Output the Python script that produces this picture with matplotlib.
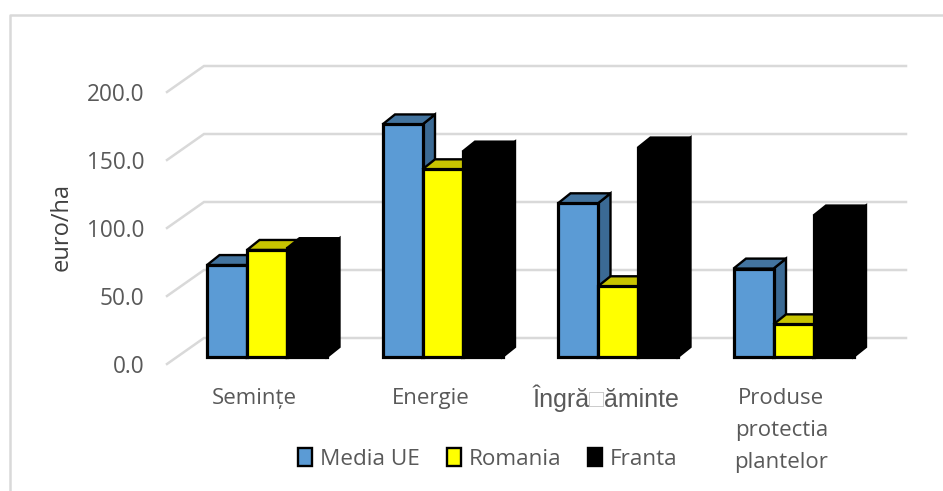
#!/usr/bin/env python
import matplotlib
matplotlib.use('Agg')

import numpy as np
import matplotlib.pyplot as plt
from matplotlib.lines import Line2D
from matplotlib.patches import Polygon, Patch

W, H = 943, 491

categories = ['Semințe', 'Energie', 'Îngră\u25a1ăminte', 'Produse\nprotectia\nplantelor']
media_ue = [67.6, 171, 113, 65]
romania = [78.7, 138, 52, 24]
franta = [80, 151, 154, 104]
y_ticks = [0, 50, 100, 150, 200]

GRID = '#d9d9d9'
TEXT = '#595959'
OUTLINE = '#000000'

# front colour, top face, side face
series = [
    ('Media UE', media_ue, '#5b9bd5', '#43749f', '#3b6a94'),
    ('Romania', romania, '#ffff00', '#c8c400', '#c8c400'),
    ('Franta', franta, '#000000', '#000000', '#000000'),
]

plt.rcParams['font.family'] = ['Open Sans', 'DejaVu Sans']

fig = plt.figure(figsize=(W / 100, H / 100), dpi=100)
# axes = the front plane of the 3D chart box
left, right, top, bottom = 167, 869, 92, 364
ax = fig.add_axes([left / W, 1 - bottom / H, (right - left) / W, (bottom - top) / H])
ax.set_xlim(-0.5, 3.5)
ax.set_ylim(0, 200)
for s in ax.spines.values():
    s.set_visible(False)
ax.patch.set_visible(False)

px_x = 4 / (right - left)      # data units per pixel
px_y = 200 / (bottom - top)

# floor / back wall gridlines
back_dx, back_dy = 37 * px_x, 26 * px_y
for v in y_ticks:
    ax.plot([-0.5, -0.5 + back_dx, 3.5 + back_dx], [v, v + back_dy, v + back_dy],
            color=GRID, lw=1.8, clip_on=False, zorder=1, solid_joinstyle='miter')

# bars
bar_w = 40 * px_x
depth_x, depth_y = 12.5 * px_x, 10 * px_y
base = 7 * px_y
shift = 12.25 * px_x
x = np.arange(len(categories))
for i, (name, values, front, top_c, side_c) in enumerate(series):
    xs = x + shift + (i - 1) * bar_w
    for j, (xc, val) in enumerate(zip(xs, values)):
        x0, x1 = xc - bar_w / 2, xc + bar_w / 2
        y0, y1 = base, base + val
        z = 3 + i + j * 10
        side = [(x1, y0), (x1 + depth_x, y0 + depth_y), (x1 + depth_x, y1 + depth_y), (x1, y1)]
        top_f = [(x0, y1), (x0 + depth_x, y1 + depth_y), (x1 + depth_x, y1 + depth_y), (x1, y1)]
        ax.add_patch(Polygon(side, closed=True, fc=side_c, ec=OUTLINE, lw=1.7, zorder=z, clip_on=False))
        ax.add_patch(Polygon(top_f, closed=True, fc=top_c, ec=OUTLINE, lw=1.7, zorder=z, clip_on=False))
        ax.bar(xc, val, bottom=base, width=bar_w, color=front, edgecolor=OUTLINE,
               linewidth=2.3, zorder=z + 0.5, clip_on=False)

ax.set_yticks(y_ticks)
ax.set_yticklabels(['%.1f' % v for v in y_ticks], fontsize=16.3, color=TEXT)
ax.set_xticks(x)
ax.set_xticklabels([c if '\u25a1' not in c else '' for c in categories],
                   fontsize=16, color=TEXT, linespacing=1.7)
ax.tick_params(axis='both', length=0)
ax.tick_params(axis='y', pad=16.5)
ax.tick_params(axis='x', pad=17)

# broken glyph label: the box comes out pale, so the label is laid out in three pieces
parts = [('Îngră', TEXT), ('\u25a1', '#c8c8c8'), ('ăminte', TEXT)]
renderer = fig.canvas.get_renderer()
pieces = []
for txt, col in parts:
    t = ax.annotate(txt, xy=(x[2], 0), xycoords=('data', 'axes fraction'), xytext=(0, -31),
                    textcoords='offset points', ha='left', va='baseline', color=col,
                    fontsize=18, family=['Liberation Sans', 'DejaVu Sans'])
    pieces.append((t, t.get_window_extent(renderer).width * 0.72))
offset = -sum(w for _, w in pieces) / 2
for t, w in pieces:
    t.xyann = (offset, -31)
    offset += w

fig.text(62 / W, 1 - 227 / H, 'euro/ha', rotation=90, ha='center', va='center',
         fontsize=17, color='#404040')

handles = [Patch(fc=s[2], ec=OUTLINE, lw=1.7) for s in series]
leg = fig.legend(handles, [s[0] for s in series], ncol=3, frameon=False,
                 loc='center', bbox_to_anchor=(488 / W, 1 - 459 / H),
                 fontsize=16.2, handlelength=0.62, handleheight=0.8,
                 handletextpad=0.35, columnspacing=1.2, labelcolor=TEXT)

# chart area border, only top and left show in the crop
fig.add_artist(Line2D([10 / W, 10 / W, 1], [0, 1 - 15 / H, 1 - 15 / H], color=GRID, lw=1.8))

fig.savefig('out.png', dpi=100)
plt.close(fig)
